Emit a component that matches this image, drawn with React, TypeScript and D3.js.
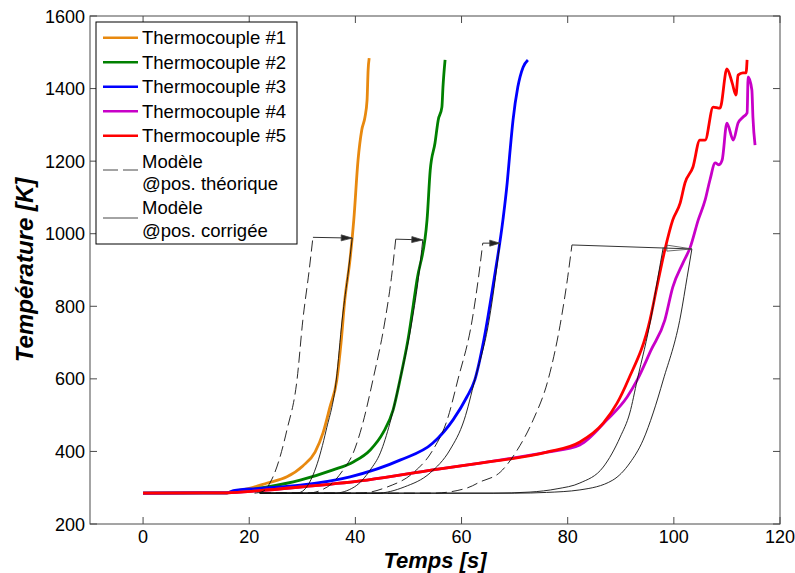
import React from "react";
import * as d3 from "d3";

type P = [number, number];

// Thermocouple measurements [time s, temperature K]
const tc1: P[] = [[0,285],[15.8,286],[16.4,288],[20,298],[23.4,313],[27.1,330],[30.1,360],[32.4,398],[33.9,451],[35.2,522],[36.5,597],[37.3,700],[38.0,817],[39.0,930],[39.7,1038],[40.5,1203],[41.2,1286],[41.8,1321],[42.2,1368],[42.4,1451],[42.6,1484]];
const tc2: P[] = [[0,285],[15.8,286],[19,292],[23.4,302],[29.6,321],[35.8,349],[39.6,371],[42.8,404],[45.2,451],[47.1,514],[48.4,597],[49.9,707],[51.6,872],[53.5,1038],[54.1,1175],[55.0,1250],[55.6,1313],[56.3,1349],[56.5,1404],[56.9,1479]];
const tc3: P[] = [[0,285],[15.8,286],[17.0,292],[22,298],[29.6,307],[39.0,330],[48.4,376],[54.6,423],[58.4,487],[61.0,550],[62.5,597],[64.2,707],[66.1,872],[67.8,1038],[68.6,1140],[69.1,1222],[69.7,1313],[70.6,1404],[71.6,1459],[72.5,1479]];
const tc4: P[] = [[0,285],[15.8,286],[22,292],[29.6,302],[42.2,321],[54.6,349],[63.5,368],[76.1,398],[82.3,418],[87.4,487],[91.2,550],[93.1,597],[95.7,679],[98.3,762],[99.8,853],[101.7,919],[103.1,963],[104.6,1038],[105.9,1093],[106.8,1148],[107.8,1195],[108.5,1190],[109.1,1203],[110.0,1305],[111.2,1258],[112.1,1305],[113.0,1321],[113.8,1333],[114.0,1432],[114.7,1396],[114.9,1321],[115.3,1244]];
const tc5: P[] = [[0,285],[15.8,286],[22,292],[29.6,302],[42.2,321],[54.6,349],[63.5,368],[76.1,398],[82.3,426],[86.7,478],[89.3,533],[91.4,597],[95.5,762],[96.8,853],[98.3,955],[99.8,1038],[101.2,1085],[102.1,1140],[103.6,1184],[104.9,1258],[105.9,1258],[107.4,1349],[108.7,1346],[110.0,1454],[111.0,1415],[111.7,1382],[112.1,1437],[113.0,1443],[113.6,1443],[113.8,1479]];

// Model at theoretical position (dashed)
const modelTheo1: P[] = [[21.0,285],[22.6,290],[23.9,313],[25.2,357],[27.1,459],[29.0,597],[30.1,762],[31.3,900],[32.0,990]];
const modelTheo2: P[] = [[22,285],[30.9,285],[34.7,302],[37.7,349],[39.6,396],[41.4,478],[43.3,597],[45.6,762],[46.8,880],[47.6,985]];
const modelTheo3: P[] = [[22,285],[40.9,285],[46.0,302],[50.9,341],[54.6,404],[57.3,487],[59.3,597],[62.0,762],[63.2,880],[64.0,974]];
const modelTheo4: P[] = [[22,285],[54.6,285],[61.0,299],[63.5,316],[67.3,343],[70.5,404],[73.5,487],[76.3,597],[78.9,776],[80.0,880],[80.8,969]];

// Model at corrected position (solid)
const modelCorr1: P[] = [[22,285],[28.9,285],[30.0,290],[31.3,313],[32.6,357],[34.5,459],[36.4,597],[37.5,762],[38.7,900],[39.4,988]];
const modelCorr2: P[] = [[22,285],[36.0,285],[39.8,302],[42.8,349],[44.7,396],[46.5,478],[48.4,597],[50.7,762],[51.9,880],[52.7,983]];
const modelCorr3: P[] = [[22,285],[44.1,285],[49.2,302],[54.1,341],[57.8,404],[60.5,487],[62.5,597],[65.2,762],[66.4,880],[67.2,974]];
const modelCorr4: P[] = [[22,285],[70,285],[76,287],[82.3,294],[88.5,321],[91.7,368],[94.2,431],[96.1,506],[98.0,597],[101.3,776],[102.5,880],[103.4,958]];
const modelCorr5: P[] = [[22,285],[66,285],[72.9,288],[78,297],[82.3,313],[86.7,357],[89.9,440],[91.7,506],[93.1,597],[95.8,776],[97.0,880],[98.0,962]];

// Arrows: [t0, T0, t1, T1]
const arrows: [number, number, number, number][] = [
  [32.0, 990, 39.4, 988],
  [47.6, 985, 52.7, 983],
  [64.0, 974, 67.2, 974],
  [80.8, 969, 103.4, 958],
];
const arrowHeadLen = [11, 11, 10, 25];

const xTicks = [0, 20, 40, 60, 80, 100, 120];
const yTicks = [200, 400, 600, 800, 1000, 1200, 1400, 1600];

const tcSeries = [tc1, tc2, tc3, tc4, tc5];
const tcColors = ["#E8890F", "#008000", "#0000FF", "#C800C8", "#FF0000"];
const tcLabels = ["Thermocouple #1", "Thermocouple #2", "Thermocouple #3", "Thermocouple #4", "Thermocouple #5"];

const L = 90, R = 780, T = 16, B = 524;
const FONT = "'Liberation Sans', Arial, Helvetica, sans-serif";

export default function App() {
  const x = d3.scaleLinear().domain([-10, 120]).range([L, R]);
  const y = d3.scaleLinear().domain([200, 1600]).range([B, T]);
  const line = d3.line<P>().x((d) => x(d[0])).y((d) => y(d[1])).curve(d3.curveMonotoneX);
  const axisCol = "#4a4a4a";
  const tickLen = 7;

  return (
    <svg width={795} height={573} style={{ position: "absolute", left: 0, top: 0, background: "#fff" }} fontFamily={FONT}>
      <rect x={0} y={0} width={795} height={573} fill="#fff" />
      <defs>
        <clipPath id="plot">
          <rect x={L} y={T} width={R - L} height={B - T} />
        </clipPath>
      </defs>
      <g clipPath="url(#plot)">
        {tcSeries.map((s, i) => (
          <path key={i} d={line(s) || ""} fill="none" stroke={tcColors[i]} strokeWidth={2.8} strokeLinejoin="round" />
        ))}
        {[modelTheo1, modelTheo2, modelTheo3, modelTheo4].map((s, i) => (
          <path key={"d" + i} d={line(s) || ""} fill="none" stroke="#111" strokeWidth={0.9} strokeDasharray="11,5" />
        ))}
        {[modelCorr1, modelCorr2, modelCorr3, modelCorr4, modelCorr5].map((s, i) => (
          <path key={"s" + i} d={line(s) || ""} fill="none" stroke="#111" strokeWidth={0.9} />
        ))}
        {arrows.map((a, i) => {
          const x0 = x(a[0]), y0 = y(a[1]), x1 = x(a[2]), y1 = y(a[3]);
          const ang = Math.atan2(y1 - y0, x1 - x0);
          const hl = arrowHeadLen[i], hw = 3;
          const bx = x1 - hl * Math.cos(ang), by = y1 - hl * Math.sin(ang);
          const px = -Math.sin(ang) * hw, py = Math.cos(ang) * hw;
          return (
            <g key={"a" + i}>
              <line x1={x0} y1={y0} x2={x1} y2={y1} stroke="#333" strokeWidth={1} />
              <polygon points={`${x1},${y1} ${bx + px},${by + py} ${bx - px},${by - py}`} fill={i === 3 ? "none" : "#222"} stroke="#444" strokeWidth={0.8} />
            </g>
          );
        })}
      </g>

      {/* axes box */}
      <rect x={L} y={T} width={R - L} height={B - T} fill="none" stroke={axisCol} strokeWidth={1} />
      {xTicks.map((t) => (
        <g key={"xt" + t}>
          <line x1={x(t)} x2={x(t)} y1={B} y2={B - tickLen} stroke={axisCol} />
          <line x1={x(t)} x2={x(t)} y1={T} y2={T + tickLen} stroke={axisCol} />
          <text x={x(t)} y={543} textAnchor="middle" fontSize={18} fill="#000">{t}</text>
        </g>
      ))}
      {yTicks.map((t) => (
        <g key={"yt" + t}>
          <line x1={L} x2={L + tickLen} y1={y(t)} y2={y(t)} stroke={axisCol} />
          <line x1={R} x2={R - tickLen} y1={y(t)} y2={y(t)} stroke={axisCol} />
          <text x={85} y={y(t) + 6.5} textAnchor="end" fontSize={18} fill="#000">{t}</text>
        </g>
      ))}

      <text x={(L + R) / 2} y={568} textAnchor="middle" fontSize={22} fontWeight="bold" fontStyle="italic" fill="#000">Temps [s]</text>
      <text transform={`translate(33,${(T + B) / 2}) rotate(-90)`} textAnchor="middle" fontSize={24} fontWeight="bold" fontStyle="italic" fill="#000">Température [K]</text>

      {/* legend */}
      <g>
        <rect x={96} y={22} width={201} height={222} fill="#fff" stroke="#000" strokeWidth={1} />
        {tcLabels.map((lab, i) => {
          const cy = 37.7 + i * 24.5;
          return (
            <g key={"l" + i}>
              <line x1={103} x2={138} y1={cy} y2={cy} stroke={tcColors[i]} strokeWidth={2.5} />
              <text x={142} y={cy + 6.6} fontSize={18.5} fill="#000">{lab}</text>
            </g>
          );
        })}
        <line x1={103} x2={138} y1={170} y2={170} stroke="#333" strokeWidth={0.9} strokeDasharray="15,5" />
        <text x={142} y={168} fontSize={18.5} fill="#000">Modèle</text>
        <text x={142} y={190} fontSize={18.5} fill="#000">@pos. théorique</text>
        <line x1={103} x2={138} y1={218} y2={218} stroke="#333" strokeWidth={0.9} />
        <text x={142} y={214} fontSize={18.5} fill="#000">Modèle</text>
        <text x={142} y={237} fontSize={18.5} fill="#000">@pos. corrigée</text>
      </g>
    </svg>
  );
}
